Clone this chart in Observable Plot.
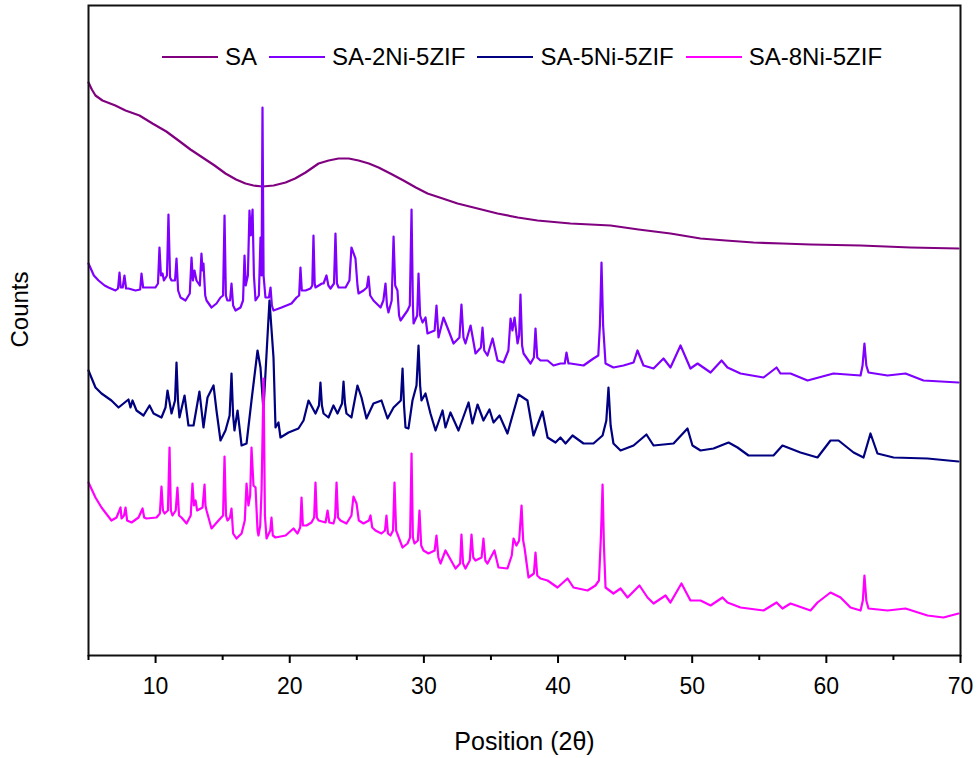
<!DOCTYPE html>
<html>
<head>
<meta charset="utf-8">
<script src="https://cdn.jsdelivr.net/npm/d3@7"></script>
<script src="https://cdn.jsdelivr.net/npm/@observablehq/plot@0.6"></script>
<style>
  html, body { margin: 0; padding: 0; background: #fff; }
  #wrap { position: relative; width: 979px; height: 758px; font-family: "Liberation Sans", Arial, sans-serif; }
  #legend { position: absolute; top: 45px; left: 162px; display: flex; align-items: center; height: 24px; font-size: 24px; color: #000; white-space: nowrap; }
  #legend .item { display: flex; align-items: center; margin-right: 12px; }
  #legend .sw { width: 56px; height: 0; border-top: 2.5px solid; margin-right: 7px; }
</style>
</head>
<body>
<div id="wrap">
  <div id="chart"></div>
  <div id="legend"></div>
</div>
<script>
// ---- data (2θ in degrees, counts in arbitrary units, offset per pattern) ----
const seriesNames = ["SA", "SA-2Ni-5ZIF", "SA-5Ni-5ZIF", "SA-8Ni-5ZIF"];
const seriesColors = ["#800080", "#8000ff", "#000080", "#ff00ff"];
const xTicks = [10, 20, 30, 40, 50, 60, 70];
const xMinorTicks = [5, 15, 25, 35, 45, 55, 65];

const sa = [
  [5.00,573],[5.25,566],[5.52,560],[6.04,555],[7.00,550],[7.76,545],[8.80,540],[9.77,532],
  [10.80,524],[11.71,515],[12.60,506],[13.50,498],[14.40,490],[15.21,482],[16.00,476],
  [16.70,472],[17.30,470],[17.97,469],[18.80,470],[19.69,473],[20.40,477],[21.18,483],
  [22.15,492],[22.90,495],[23.64,497],[24.40,497],[25.13,495],[25.90,492],[26.62,488],
  [27.50,482],[28.48,475],[29.40,468],[30.27,462],[31.40,457],[32.51,452],[34.00,447],
  [35.49,442],[37.00,438],[38.47,435],[40.93,432],[43.91,430],[46.00,426],[48.38,422],
  [50.62,417],[52.50,415],[54.57,413],[56.70,412],[58.82,411],[62.55,410],[66.27,408],[69.85,407]
];

const sa2ni = [
  [5.00,392],[5.40,380],[5.75,375],[6.20,370],[6.49,368],[7.01,365],[7.20,367],[7.31,383],
  [7.40,368],[7.55,368],[7.68,380],[7.80,367],[7.98,367],[8.50,365],[8.85,366],[8.95,382],
  [9.07,368],[9.25,368],[9.99,368],[10.18,372],[10.29,408],[10.40,380],[10.52,382],[10.62,375],
  [10.85,380],[10.96,441],[11.08,378],[11.19,375],[11.45,375],[11.56,397],[11.68,365],[11.86,358],
  [12.23,355],[12.55,362],[12.68,398],[12.78,375],[12.90,385],[13.05,375],[13.30,370],[13.42,402],
  [13.50,385],[13.57,392],[13.70,360],[13.80,355],[14.17,348],[14.54,352],[14.84,358],[15.03,360],
  [15.14,440],[15.24,360],[15.35,355],[15.55,355],[15.66,372],[15.78,350],[15.96,345],[16.33,348],
  [16.52,355],[16.63,400],[16.72,370],[16.88,380],[17.00,445],[17.10,420],[17.23,446],[17.33,380],
  [17.45,355],[17.70,360],[17.82,418],[17.90,380],[17.97,548],[18.05,380],[18.19,358],[18.45,358],
  [18.57,368],[18.67,350],[18.79,345],[19.39,348],[20.13,352],[20.51,358],[20.70,360],[20.80,388],
  [20.90,365],[21.18,365],[21.55,367],[21.68,370],[21.77,420],[21.86,372],[21.92,368],[22.40,372],
  [22.52,372],[22.74,380],[22.88,370],[23.04,367],[23.30,372],[23.41,422],[23.52,372],[23.64,368],
  [24.16,368],[24.45,375],[24.60,408],[24.90,397],[25.05,370],[25.13,362],[25.50,365],[25.75,368],
  [25.87,379],[26.00,360],[26.24,355],[26.77,348],[26.98,355],[27.14,372],[27.25,350],[27.36,343],
  [27.60,355],[27.74,419],[27.86,370],[28.03,365],[28.15,340],[28.26,335],[28.78,345],[28.95,350],
  [29.08,446],[29.18,350],[29.23,332],[29.50,340],[29.60,382],[29.72,340],[29.90,333],[30.12,338],
  [30.27,322],[30.80,325],[30.94,350],[31.09,318],[31.46,338],[31.84,325],[32.21,312],[32.65,318],
  [32.80,351],[32.95,318],[33.10,312],[33.48,330],[33.85,302],[34.25,308],[34.37,328],[34.50,305],
  [34.74,300],[35.12,317],[35.49,295],[35.94,293],[36.30,305],[36.46,337],[36.60,325],[36.76,338],
  [36.98,312],[37.10,320],[37.20,361],[37.32,310],[37.43,302],[37.95,292],[38.20,298],[38.32,327],
  [38.45,298],[38.69,295],[39.22,295],[39.66,290],[40.18,292],[40.50,292],[40.63,303],[40.78,292],
  [40.93,292],[41.90,290],[42.64,297],[43.00,300],[43.12,330],[43.24,393],[43.36,330],[43.54,292],
  [44.13,288],[44.88,290],[45.63,293],[45.92,305],[46.37,290],[47.12,287],[47.86,297],[48.38,288],
  [49.13,310],[49.87,287],[50.40,292],[51.37,283],[52.19,295],[52.63,288],[53.60,282],[55.32,278],
  [56.29,288],[56.58,282],[57.33,282],[58.60,275],[60.53,282],[62.55,280],[62.70,290],[62.84,312],
  [62.98,290],[63.14,283],[64.56,280],[65.90,282],[67.24,275],[69.85,273]
];

const sa5ni = [
  [5.00,285],[5.52,268],[5.97,262],[6.71,255],[7.24,248],[7.98,256],[8.13,248],[8.28,255],
  [8.58,245],[9.10,240],[9.55,250],[9.85,242],[10.44,238],[10.74,248],[10.89,265],[11.19,242],
  [11.45,255],[11.56,293],[11.67,255],[11.78,238],[12.16,260],[12.45,230],[12.83,230],[13.27,264],
  [13.57,228],[13.87,258],[14.32,270],[14.54,245],[14.84,215],[15.21,225],[15.52,240],[15.66,282],
  [15.78,240],[15.88,225],[16.11,245],[16.41,210],[16.78,212],[17.15,255],[17.60,305],[17.82,288],
  [18.04,245],[18.49,355],[18.79,298],[18.94,228],[19.16,233],[19.31,218],[19.91,223],[20.65,227],
  [21.03,235],[21.40,255],[21.92,242],[22.18,250],[22.29,273],[22.40,250],[22.52,242],[22.89,238],
  [23.26,250],[23.56,242],[23.90,252],[24.01,274],[24.12,252],[24.23,242],[24.60,238],[25.05,270],
  [25.35,258],[25.72,237],[26.24,252],[26.84,255],[27.29,237],[27.74,248],[28.28,255],[28.41,287],
  [28.52,250],[28.63,228],[28.85,227],[29.15,255],[29.45,270],[29.60,310],[29.72,270],[29.82,255],
  [30.12,262],[30.49,242],[30.87,225],[31.39,245],[31.61,228],[31.98,243],[32.58,225],[33.33,253],
  [33.62,232],[34.00,251],[34.44,235],[34.89,246],[35.19,233],[35.64,240],[36.23,222],[37.05,261],
  [37.72,255],[38.17,220],[38.84,244],[39.22,218],[39.81,213],[40.18,218],[40.56,212],[41.08,220],
  [41.90,212],[42.64,212],[43.32,220],[43.60,235],[43.76,268],[43.92,230],[44.13,212],[44.66,205],
  [45.63,210],[46.59,221],[47.12,210],[48.61,212],[49.65,227],[50.02,210],[50.62,205],[51.59,207],
  [52.71,213],[53.38,208],[54.20,200],[56.06,200],[56.73,210],[58.07,203],[59.34,198],[60.31,215],
  [60.91,215],[62.03,203],[62.77,198],[63.29,222],[63.81,202],[65.01,198],[67.54,197],[69.85,194]
];

const sa8ni = [
  [5.00,173],[5.52,158],[5.97,148],[6.71,135],[7.09,138],[7.39,148],[7.46,137],[7.65,140],
  [7.76,148],[7.88,135],[8.21,133],[8.73,138],[9.03,147],[9.15,138],[9.32,137],[10.07,138],
  [10.32,142],[10.44,169],[10.55,145],[10.67,142],[10.92,145],[11.04,208],[11.14,145],[11.26,140],
  [11.50,145],[11.63,168],[11.75,140],[11.93,138],[12.31,132],[12.62,140],[12.75,172],[12.86,150],
  [12.98,155],[13.10,145],[13.50,148],[13.65,171],[13.72,150],[13.80,145],[14.17,127],[14.69,135],
  [15.03,140],[15.14,199],[15.25,140],[15.36,135],[15.55,138],[15.66,147],[15.78,122],[16.03,117],
  [16.41,122],[16.65,135],[16.78,172],[16.92,150],[17.05,160],[17.15,208],[17.30,170],[17.45,168],
  [17.60,125],[17.67,120],[17.80,130],[17.90,165],[18.05,277],[18.15,140],[18.27,117],[18.55,125],
  [18.64,138],[18.74,120],[18.94,118],[19.69,120],[20.28,127],[20.58,122],[20.78,128],[20.88,158],
  [20.98,130],[21.25,130],[21.62,133],[21.82,138],[21.92,173],[22.02,138],[22.15,135],[22.67,133],
  [22.82,145],[22.95,133],[23.26,132],[23.38,138],[23.49,173],[23.60,138],[23.78,135],[24.23,132],
  [24.60,140],[24.75,159],[24.98,152],[25.15,135],[25.50,132],[25.90,135],[26.02,140],[26.15,128],
  [26.39,125],[26.84,122],[27.10,125],[27.21,140],[27.32,122],[27.51,120],[27.70,125],[27.81,173],
  [27.93,125],[28.41,108],[28.78,112],[28.97,118],[29.08,202],[29.18,118],[29.30,112],[29.55,115],
  [29.67,145],[29.80,110],[29.97,105],[30.34,102],[30.80,105],[30.94,120],[31.08,98],[31.24,92],
  [31.61,105],[32.36,87],[32.70,92],[32.80,121],[32.92,92],[33.10,87],[33.42,95],[33.55,121],
  [33.68,98],[33.85,95],[34.30,98],[34.44,117],[34.58,95],[34.74,92],[35.26,105],[35.56,88],
  [36.23,87],[36.55,100],[36.68,117],[36.90,110],[37.10,115],[37.28,150],[37.40,115],[37.50,108],
  [37.80,78],[38.20,82],[38.32,103],[38.45,80],[38.69,77],[39.22,75],[39.96,68],[40.71,77],
  [41.15,68],[42.20,65],[42.79,70],[43.05,75],[43.20,120],[43.32,171],[43.42,110],[43.54,68],
  [44.13,62],[44.66,67],[45.18,58],[46.07,70],[46.67,58],[47.12,52],[48.01,60],[48.38,53],
  [49.20,72],[49.87,55],[50.62,55],[51.37,50],[52.26,58],[52.63,53],[53.60,48],[55.32,45],
  [56.29,53],[56.73,47],[57.33,52],[58.82,45],[59.34,53],[60.31,63],[61.06,58],[61.80,48],
  [62.55,45],[62.72,55],[62.84,80],[62.98,55],[63.14,47],[64.56,45],[65.90,47],[67.54,40],
  [68.73,38],[69.85,42]
];

// ---- build table ----
const patterns = [sa, sa2ni, sa5ni, sa8ni];
const rows = [];
patterns.forEach((pts, i) => {
  pts.forEach(([t, c]) => rows.push({series: seriesNames[i], theta: t, counts: c}));
});

const FONT = "'Liberation Sans', Arial, sans-serif";

const chart = Plot.plot({
  width: 979,
  height: 758,
  marginLeft: 88,
  marginRight: 19,
  marginTop: 5,
  marginBottom: 103,
  style: {fontFamily: FONT, color: "#000", background: "#fff", overflow: "visible"},
  x: {domain: [5, 70]},
  y: {domain: [0, 650], axis: null},
  color: {domain: seriesNames, range: seriesColors},
  marks: [
    Plot.line(rows, {x: "theta", y: "counts", z: "series", stroke: "series", strokeWidth: 2.2, strokeLinejoin: "round"}),
    Plot.frame({stroke: "#111", strokeWidth: 2}),
    Plot.axisX({ticks: xTicks, tickSize: 8, tickPadding: 14, strokeWidth: 2, fontSize: 23,
      label: null}),
    Plot.axisX({ticks: xMinorTicks, tickSize: 5, strokeWidth: 2, tickFormat: () => "", label: null}),
    Plot.text(["Position (2θ)"], {frameAnchor: "bottom", dy: 85, fontSize: 25, fill: "#000", dy: 94}),
    Plot.text(["Counts"], {frameAnchor: "left", rotate: -90, dx: -68, dy: 17, fontSize: 24, fill: "#000"})
  ]
});
document.getElementById("chart").appendChild(chart);

// ---- legend ----
const legend = document.getElementById("legend");
seriesNames.forEach((name, i) => {
  const item = document.createElement("div");
  item.className = "item";
  const sw = document.createElement("span");
  sw.className = "sw";
  sw.style.borderTopColor = seriesColors[i];
  const label = document.createElement("span");
  label.textContent = name;
  item.appendChild(sw);
  item.appendChild(label);
  legend.appendChild(item);
});
</script>
</body>
</html>
